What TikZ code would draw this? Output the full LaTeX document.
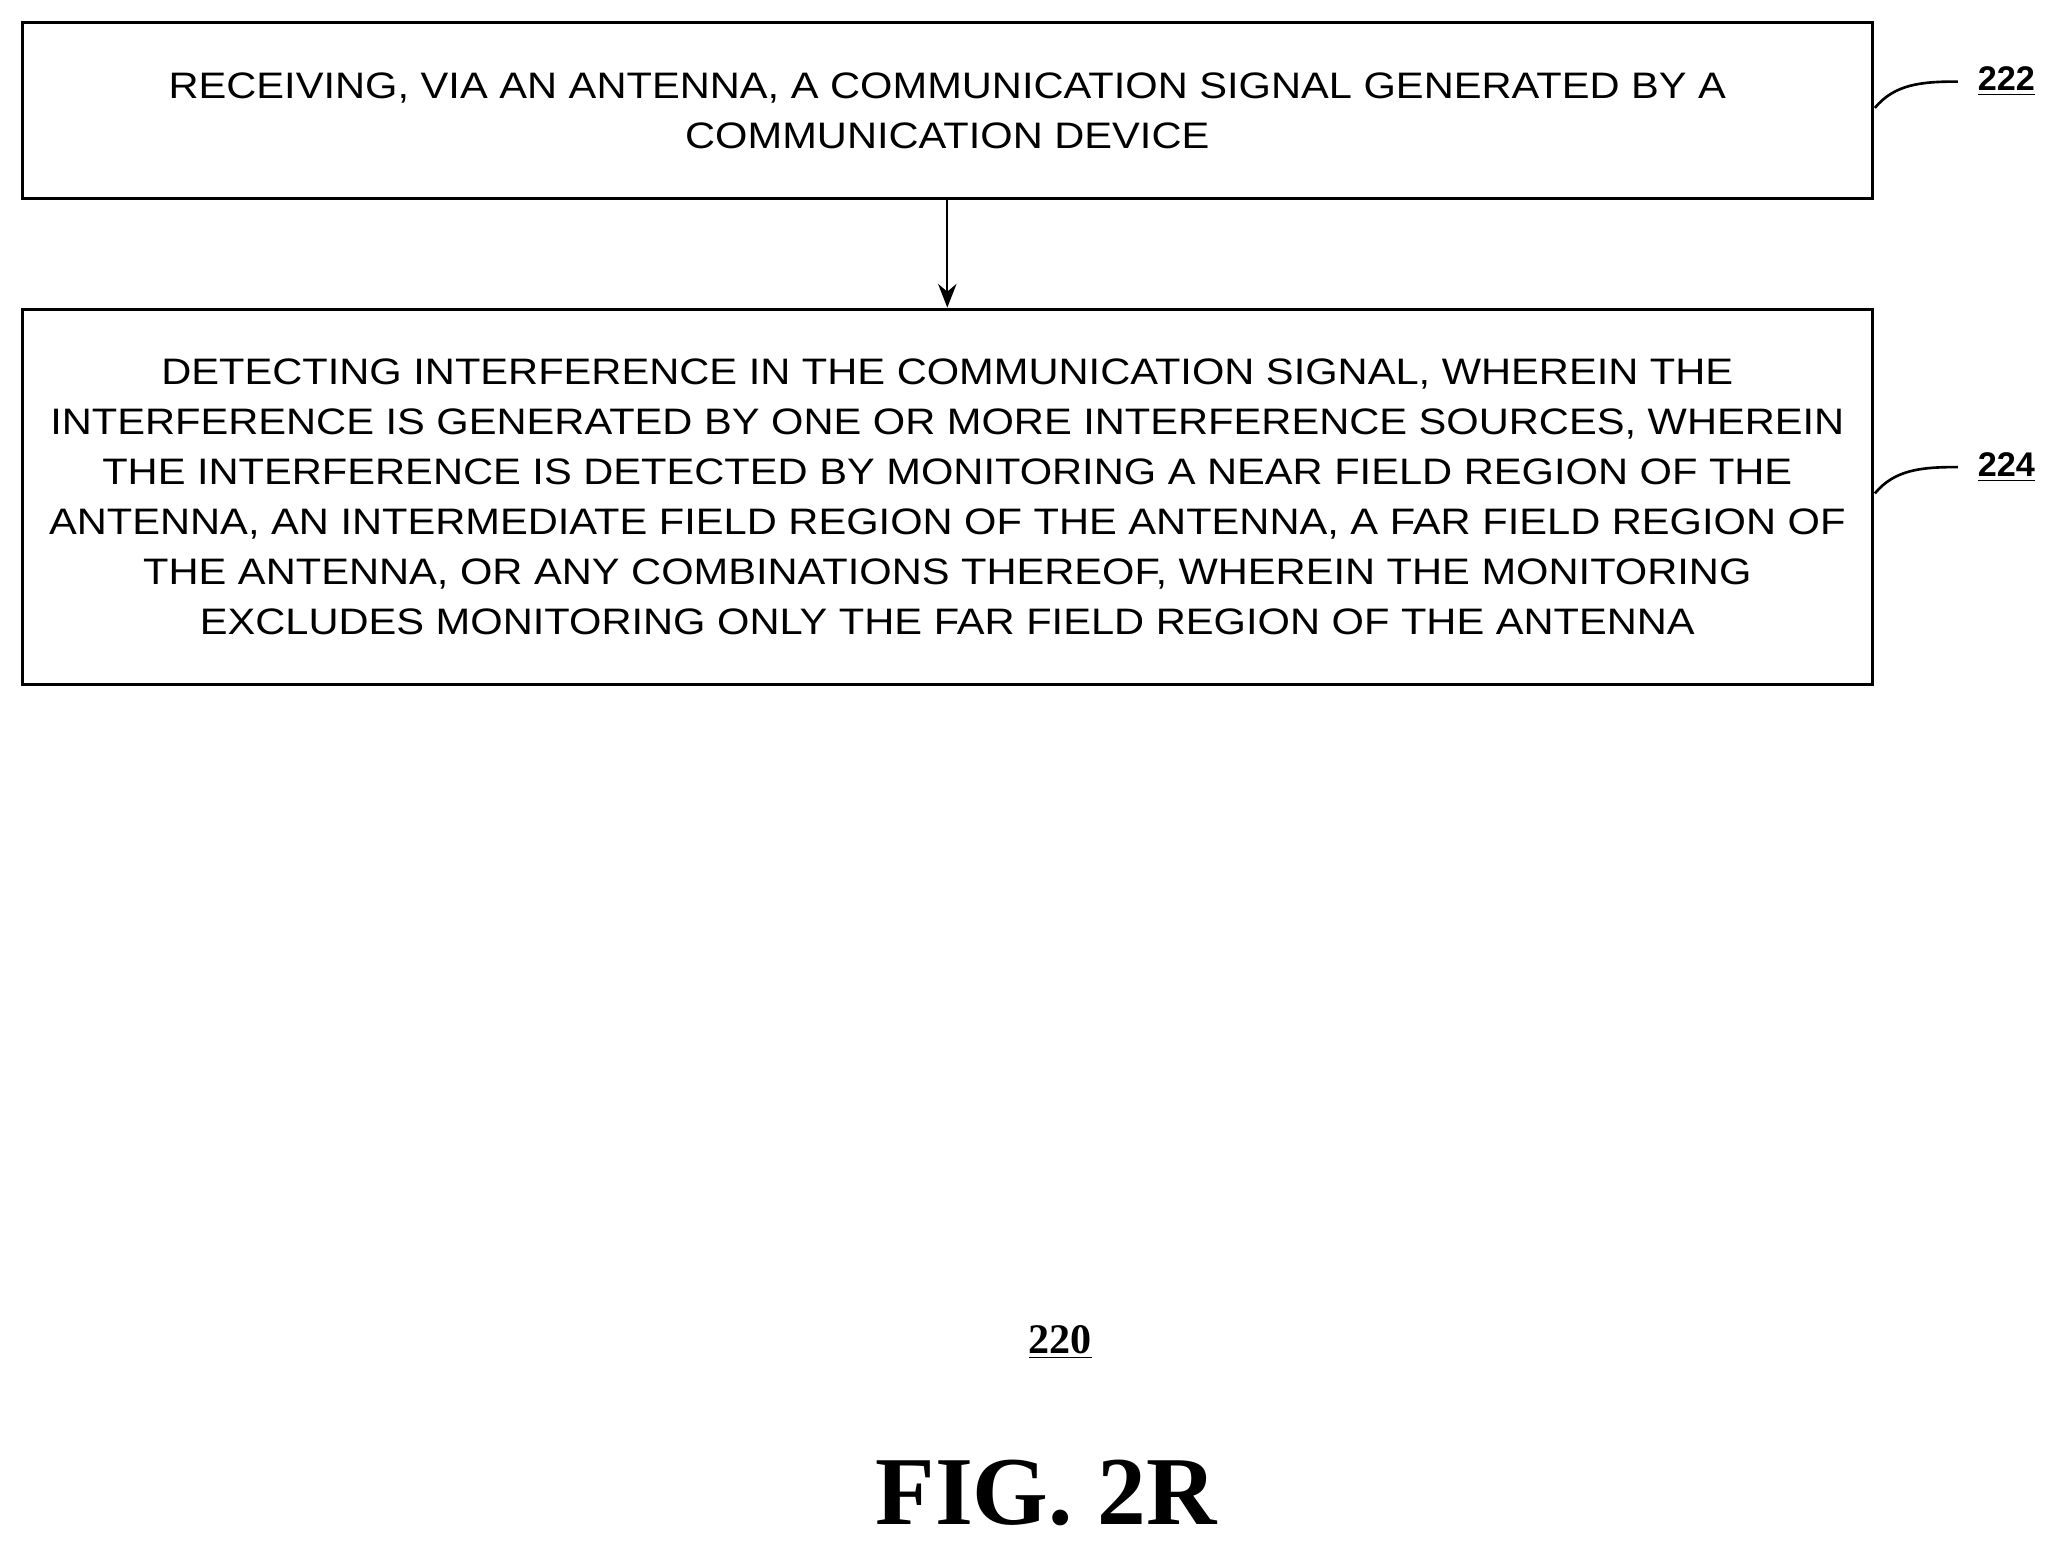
\documentclass[tikz,border=0pt]{standalone}
\usepackage{fontspec}
\setmainfont{Liberation Sans}
\newfontfamily\widesans[FakeStretch=1.13]{Liberation Sans}
\newfontfamily\serifb{Liberation Serif}
\usetikzlibrary{arrows.meta}
\begin{document}
\begin{tikzpicture}[x=0.5pt,y=-0.5pt,
  boxst/.style={draw,line width=1.2pt,minimum width=703pt,inner sep=0pt,align=center,font=\widesans\fontsize{14}{19}\selectfont},
  refst/.style={font=\fontsize{13}{15}\selectfont\bfseries}]
\useasboundingbox (0,0) rectangle (1568,1176);
\node[boxst,minimum height=67pt] (b1) at (720,84) {RECEIVING, VIA AN ANTENNA, A COMMUNICATION SIGNAL GENERATED BY A\\COMMUNICATION DEVICE};
\node[boxst,minimum height=142.5pt] (b2) at (720,377.5) {DETECTING INTERFERENCE IN THE COMMUNICATION SIGNAL, WHEREIN THE\\INTERFERENCE IS GENERATED BY ONE OR MORE INTERFERENCE SOURCES, WHEREIN\\THE INTERFERENCE IS DETECTED BY MONITORING A NEAR FIELD REGION OF THE\\ANTENNA, AN INTERMEDIATE FIELD REGION OF THE ANTENNA, A FAR FIELD REGION OF\\THE ANTENNA, OR ANY COMBINATIONS THEREOF, WHEREIN THE MONITORING\\EXCLUDES MONITORING ONLY THE FAR FIELD REGION OF THE ANTENNA};
\draw[line width=0.9pt,-{Stealth[length=9pt,width=7pt]}] (b1.south) -- (b2.north);
\node[refst] (r1) at (1525,62) {\underline{222}};
\node[refst] (r2) at (1525,355) {\underline{224}};
\draw[line width=1pt] (1425,82) .. controls (1440,64) and (1460,62) .. (1488,62);
\draw[line width=1pt] (1425,375) .. controls (1440,357) and (1460,355) .. (1488,355);
\node[font=\serifb\fontsize{16}{18}\selectfont\bfseries] (r0) at (806,1020) {\underline{220}};
\node[font=\serifb\fontsize{37}{40}\selectfont\bfseries] (fig) at (795,1135) {FIG. 2R};
\end{tikzpicture}
\end{document}
